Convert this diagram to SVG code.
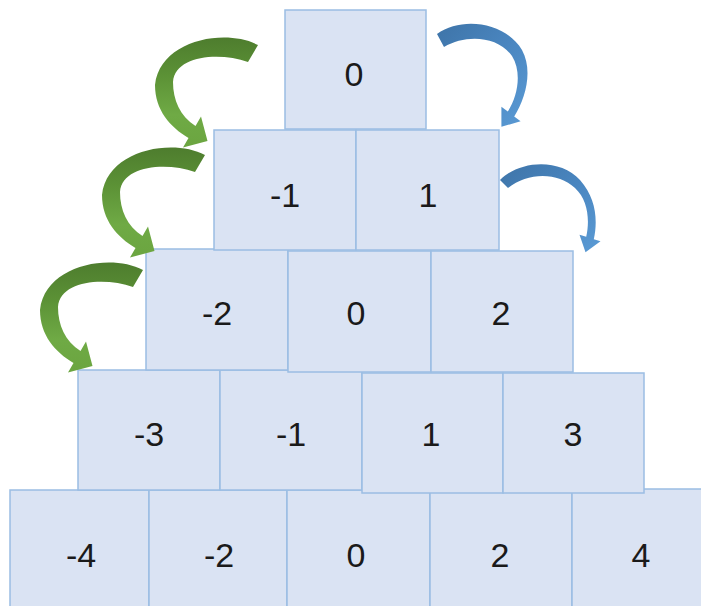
<svg xmlns="http://www.w3.org/2000/svg" width="701" height="606" viewBox="0 0 701 606">
<style>
.box{fill:#DAE3F3;stroke:#9BBDE3;stroke-width:1.5}
.lbl{font-family:"Liberation Sans",Arial,sans-serif;font-size:34px;fill:#1a1a1a;text-anchor:middle}
</style>
<defs>
<linearGradient id="gg" x1="0" y1="0" x2="0" y2="1">
<stop offset="0" stop-color="#4E7D2E"/>
<stop offset="0.35" stop-color="#5C9236"/>
<stop offset="0.7" stop-color="#6FAA45"/>
<stop offset="1" stop-color="#6BA540"/>
</linearGradient>
<linearGradient id="bg" x1="0" y1="0" x2="1" y2="1">
<stop offset="0" stop-color="#3E74A8"/>
<stop offset="0.5" stop-color="#4A86C0"/>
<stop offset="1" stop-color="#5B9BD5"/>
</linearGradient>
<path id="garrow" d="M258,45 C225,28 160,40 155,85 C155,110 170,127 188.5,138 L183,147.5 L207.5,141 L201,116.5 L195.5,126 C180,116 173,100 173,82 C175,55 220,52 248,62 Z"/>
</defs>
<rect width="701" height="606" fill="#ffffff"/>
<g id="row5">
<g id="n-4"><rect class="box" x="10" y="490" width="139" height="125"/><text class="lbl" x="81" y="567">-4</text></g>
<g id="n-2b"><rect class="box" x="149" y="490" width="138" height="125"/><text class="lbl" x="219" y="567">-2</text></g>
<g id="n0c"><rect class="box" x="287" y="490" width="143" height="125"/><text class="lbl" x="356" y="567">0</text></g>
<g id="n2b"><rect class="box" x="430" y="490" width="142" height="125"/><text class="lbl" x="500" y="567">2</text></g>
<g id="n4"><rect class="box" x="572" y="489" width="135" height="125"/><text class="lbl" x="641" y="567">4</text></g>
</g>
<g id="row4">
<g id="n-3"><rect class="box" x="78" y="370" width="142" height="120"/><text class="lbl" x="149" y="446">-3</text></g>
<g id="n-1b"><rect class="box" x="220" y="370" width="142" height="120"/><text class="lbl" x="291" y="446">-1</text></g>
<g id="n1b"><rect class="box" x="362" y="373" width="141" height="120"/><text class="lbl" x="431" y="446">1</text></g>
<g id="n3"><rect class="box" x="503" y="373" width="141" height="120"/><text class="lbl" x="573" y="446">3</text></g>
</g>
<g id="row3">
<g id="n-2"><rect class="box" x="146" y="249" width="142" height="121"/><text class="lbl" x="217" y="325">-2</text></g>
<g id="n0b"><rect class="box" x="288" y="251" width="143" height="121"/><text class="lbl" x="356" y="325">0</text></g>
<g id="n2"><rect class="box" x="431" y="251" width="142" height="121"/><text class="lbl" x="501" y="325">2</text></g>
</g>
<g id="row2">
<g id="n-1"><rect class="box" x="214" y="130" width="142" height="120"/><text class="lbl" x="285" y="207">-1</text></g>
<g id="n1"><rect class="box" x="356" y="130" width="143" height="120"/><text class="lbl" x="428" y="207">1</text></g>
</g>
<g id="row1">
<g id="n0"><rect class="box" x="285" y="10" width="141" height="119"/><text class="lbl" x="354" y="86">0</text></g>
</g>
<g id="connectors">
<use href="#garrow" fill="url(#gg)"/>
<use href="#garrow" fill="url(#gg)" transform="translate(-53,110)"/>
<use href="#garrow" fill="url(#gg)" transform="translate(-115,225)"/>
<path fill="url(#bg)" d="M437,34 C462,16 505,22 522,50 C533,70 526,98 514.2,116.4 L520.6,121.2 L501.4,126.8 L501.4,106.8 L507.8,111.6 C518,96 522,72 512,56 C498,36 466,34 444,47 Z"/>
<path fill="url(#bg)" d="M500,180 C520,160 560,158 580,180 C596,198 598,220 593.8,239.2 L600.5,241.3 L585.5,252.3 L579.5,234.7 L586.2,236.8 C590,220 588,200 575,188 C558,172 528,172 508,188 Z"/>
</g>
</svg>
